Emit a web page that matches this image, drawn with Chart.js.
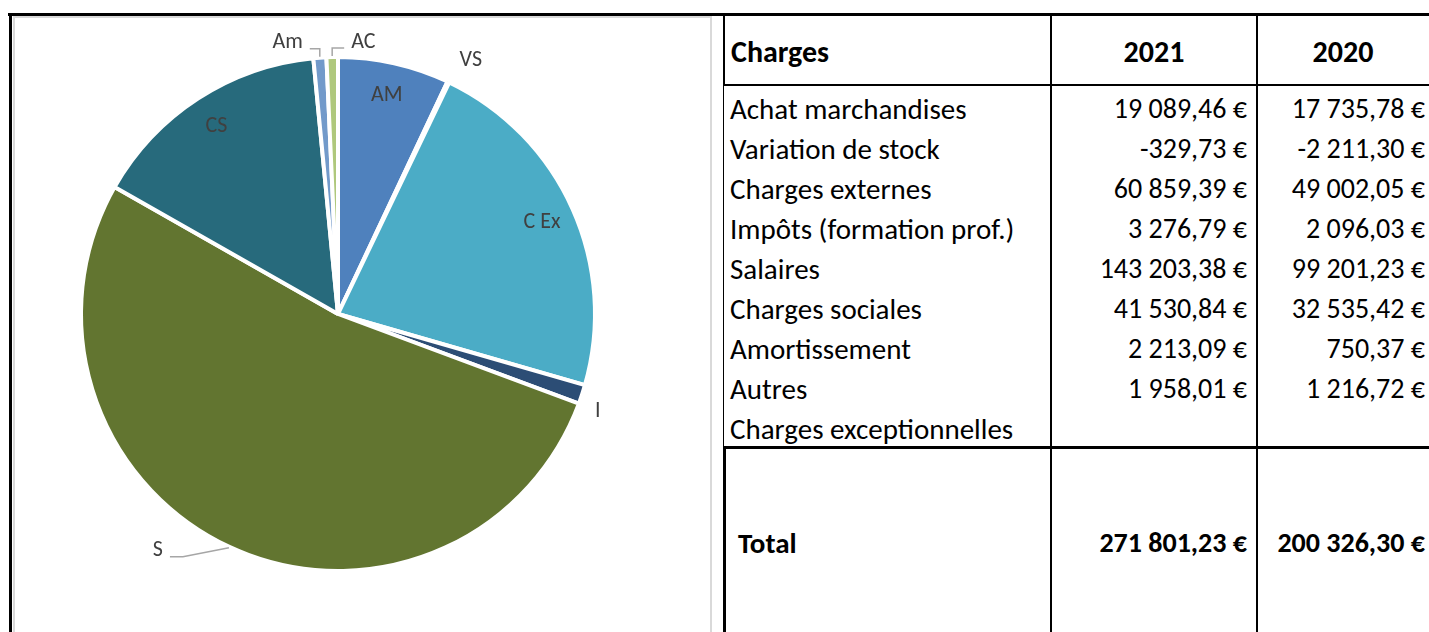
<!DOCTYPE html>
<html lang="fr">
<head>
<meta charset="UTF-8">
<title>Charges 2021 / 2020</title>
<script src="https://cdn.jsdelivr.net/npm/chart.js"></script>
<style>
  body { margin: 0; width: 1429px; height: 632px; overflow: hidden; position: relative; background: #fff;
         font-family: Carlito, Lato, "Liberation Sans", sans-serif; color: #000; }
  .line { position: absolute; }
  .black { background: #000; }
  .grey { background: #d9d9d9; }
  #pie { position: absolute; left: 15px; top: 18px; }
  .cell { position: absolute; height: 40px; line-height: 40px; font-size: 29px; white-space: nowrap; }
  .num { text-align: right; font-size: 28px; }
  .head { font-weight: bold; font-size: 30px; }
  .bold { font-weight: bold; }
</style>
</head>
<body>
<!-- frame around the chart and table -->
<div class="line black" style="left:8px;top:13px;width:1421px;height:3px"></div>
<div class="line black" style="left:9px;top:13px;width:3px;height:619px"></div>
<div class="line grey" style="left:13px;top:16px;width:2px;height:616px"></div>
<div class="line grey" style="left:13px;top:16px;width:699px;height:2px"></div>
<div class="line grey" style="left:710px;top:16px;width:2px;height:616px"></div>

<canvas id="pie" width="695" height="614"></canvas>
<div id="table"></div>

<script>
// table rows
const categories = ["Achat marchandises", "Variation de stock", "Charges externes", "Impôts (formation prof.)",
  "Salaires", "Charges sociales", "Amortissement", "Autres", "Charges exceptionnelles"];
const years = ["2021", "2020"];
const values2021 = [19089.46, -329.73, 60859.39, 3276.79, 143203.38, 41530.84, 2213.09, 1958.01, null];
const values2020 = [17735.78, -2211.30, 49002.05, 2096.03, 99201.23, 32535.42, 750.37, 1216.72, null];
const totals = [271801.23, 200326.30];

// pie slices (2021)
const pieLabels = ["AM", "VS", "C Ex", "I", "S", "CS", "Am", "AC"];
const pieValues = values2021.slice(0, 8);
const pieColors = ["#4f81bd", "#9bbb59", "#4bacc6", "#2c4d75", "#627530", "#276a7c", "#729aca", "#afc87c"];

// how each pie label is placed: "in", ["out", nudgeX, nudgeY] or a leader line ["leader", dx, dy, horizontal]
const labelMode = ["in", ["out", 9, 3], "in", ["out", -6, 9], ["leader", -46, 9, -13], "in",
  ["leader", 0, -8, -10], ["leader", 0, -8, 12]];

function euro(v) {
  if (v === null) return "";
  const parts = Math.abs(v).toFixed(2).split(".");
  const int = parts[0].replace(/\B(?=(\d{3})+(?!\d))/g, "\u00a0");
  return (v < 0 ? "-" : "") + int + "," + parts[1] + "\u00a0€";
}

// ---------- table ----------
const table = document.getElementById("table");
function add(html) { table.insertAdjacentHTML("beforeend", html); }

// grid lines
add('<div class="line black" style="left:723px;top:16px;width:2px;height:70px"></div>');
add('<div class="line black" style="left:723px;top:86px;width:1px;height:362px"></div>');
add('<div class="line black" style="left:723px;top:446px;width:3px;height:190px"></div>');
add('<div class="line black" style="left:723px;top:84px;width:706px;height:2px"></div>');
add('<div class="line black" style="left:723px;top:446px;width:706px;height:3px"></div>');
add('<div class="line black" style="left:1050px;top:16px;width:2px;height:620px"></div>');
add('<div class="line black" style="left:1256px;top:16px;width:2px;height:620px"></div>');

// header
add('<div class="cell head" style="left:731px;top:32px">Charges</div>');
add('<div class="cell head" style="left:1052px;width:204px;top:32px;text-align:center">' + years[0] + '</div>');
add('<div class="cell head" style="left:1258px;width:170px;top:32px;text-align:center">' + years[1] + '</div>');

categories.forEach((c, i) => {
  const top = 89 + i * 40;
  add('<div class="cell" style="left:730px;top:' + top + 'px">' + c + '</div>');
  add('<div class="cell num" style="left:1052px;width:195px;top:' + top + 'px">' + euro(values2021[i]) + '</div>');
  add('<div class="cell num" style="left:1258px;width:167px;top:' + top + 'px">' + euro(values2020[i]) + '</div>');
});

add('<div class="cell bold" style="left:738px;top:523px">Total</div>');
add('<div class="cell bold num" style="left:1052px;width:195px;top:523px">' + euro(totals[0]) + '</div>');
add('<div class="cell bold num" style="left:1258px;width:167px;top:523px">' + euro(totals[1]) + '</div>');

// ---------- pie ----------
const sliceLabels = {
  id: "sliceLabels",
  afterDatasetsDraw(chart) {
    const ctx = chart.ctx;
    const arcs = chart.getDatasetMeta(0).data;
    ctx.save();
    ctx.font = "22px Carlito, Lato, sans-serif";
    ctx.fillStyle = "#404040";
    ctx.textBaseline = "middle";
    arcs.forEach((arc, i) => {
      const p = arc.getProps(["x", "y", "startAngle", "endAngle", "outerRadius"], true);
      const mid = (p.startAngle + p.endAngle) / 2;
      const cos = Math.cos(mid), sin = Math.sin(mid);
      const mode = labelMode[i];
      const text = pieLabels[i];
      if (mode === "in") {
        const r = p.outerRadius * 0.87;
        ctx.textAlign = "center";
        ctx.fillText(text, p.x + cos * r, p.y + sin * r);
      } else if (mode[0] === "out") {
        const r = p.outerRadius + 20;
        const w = ctx.measureText(text).width;
        ctx.textAlign = "center";
        ctx.fillText(text, p.x + cos * r + cos * w / 2 + mode[1], p.y + sin * r + sin * 7 + mode[2]);
      } else {
        const x0 = p.x + cos * (p.outerRadius + 1), y0 = p.y + sin * (p.outerRadius + 1);
        const x1 = x0 + mode[1], y1 = y0 + mode[2], x2 = x1 + mode[3];
        ctx.strokeStyle = "#a6a6a6";
        ctx.lineWidth = 1.5;
        ctx.beginPath();
        ctx.moveTo(x0, y0); ctx.lineTo(x1, y1); ctx.lineTo(x2, y1);
        ctx.stroke();
        ctx.textAlign = mode[3] < 0 ? "right" : "left";
        ctx.fillText(text, x2 + (mode[3] < 0 ? -7 : 7), y1 - 6);
      }
    });
    ctx.restore();
  }
};

new Chart(document.getElementById("pie"), {
  type: "pie",
  data: {
    labels: pieLabels,
    datasets: [{
      data: pieValues,
      backgroundColor: pieColors,
      borderColor: "#ffffff",
      borderWidth: 4
    }]
  },
  options: {
    responsive: false,
    animation: false,
    layout: { padding: { left: 64, top: 37, right: 113, bottom: 59 } },
    plugins: { legend: { display: false }, tooltip: { enabled: false } }
  },
  plugins: [sliceLabels]
});
</script>
</body>
</html>
